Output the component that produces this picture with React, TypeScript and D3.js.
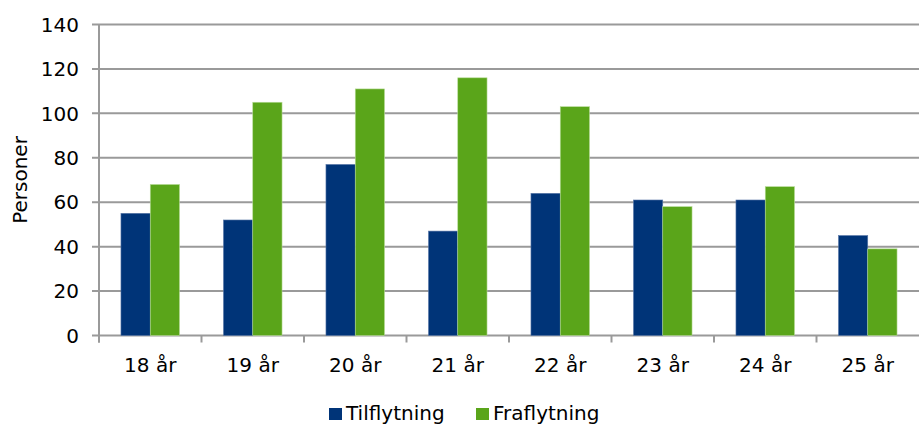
import * as d3 from "d3";

const categories = ["18 år", "19 år", "20 år", "21 år", "22 år", "23 år", "24 år", "25 år"];
const tilflytning = [55, 52, 77, 47, 64, 61, 61, 45];
const fraflytning = [68, 105, 111, 116, 103, 58, 67, 39];
const yTicks = [0, 20, 40, 60, 80, 100, 120, 140];
const seriesNames = ["Tilflytning", "Fraflytning"];
const colors = ["#003478", "#5aa51a"];

export default function App() {
  const width = 919;
  const height = 424;
  const left = 99;
  const right = 919;
  const top = 24.5;
  const bottom = 335.5;
  const font = "Verdana, 'DejaVu Sans', sans-serif";
  const fs = 20;

  const x = d3.scaleBand<string>().domain(categories).range([left, right]).paddingInner(0).paddingOuter(0);
  const y = d3.scaleLinear().domain([0, 140]).range([bottom, top]);
  // Excel-style gap width 150%
  const bw = x.bandwidth() / 3.5;
  const series = [tilflytning, fraflytning];

  return (
    <svg width={width} height={height} style={{position: "absolute", left: 0, top: 0, background: "#fff"}}>
      {yTicks.map((t) => (
        <g key={t}>
          <line x1={left - 7} x2={right} y1={y(t)} y2={y(t)} stroke="#9a9a9a" strokeWidth={2} />
          <text x={79} y={y(t)} dy="0.36em" textAnchor="end" fontSize={fs} fontFamily={font} fill="#000">
            {t}
          </text>
        </g>
      ))}
      <line x1={left} x2={left} y1={top} y2={bottom + 7} stroke="#9a9a9a" strokeWidth={2} />
      {categories.map((c) => (
        <line key={"tk" + c} x1={x(c)!} x2={x(c)!} y1={bottom} y2={bottom + 7} stroke="#9a9a9a" strokeWidth={2} />
      ))}
      {series.map((vals, s) =>
        vals.map((v, i) => {
          const c = categories[i];
          const bx = x(c)! + bw * 0.75 + s * bw;
          return (
            <rect
              key={s + "-" + c}
              x={bx}
              y={y(v)}
              width={bw}
              height={y(0) - y(v)}
              fill={colors[s]}
              stroke={s === 0 ? "#5a78a8" : "#b9dc9a"}
              strokeWidth={0.6}
            />
          );
        }),
      )}
      {categories.map((c) => (
        <text key={"lb" + c} x={x(c)! + x.bandwidth() / 2} y={372} textAnchor="middle" fontSize={fs} fontFamily={font} fill="#000">
          {c}
        </text>
      ))}
      <text transform={`translate(27,${(top + bottom) / 2}) rotate(-90)`} textAnchor="middle" fontSize={fs} fontFamily={font} fill="#000">
        Personer
      </text>
      <rect x={329} y={408} width={13} height={12} fill={colors[0]} />
      <text x={346} y={420} fontSize={fs} fontFamily={font} fill="#000">
        {seriesNames[0]}
      </text>
      <rect x={476} y={408} width={13} height={12} fill={colors[1]} />
      <text x={493} y={420} fontSize={fs} fontFamily={font} fill="#000">
        {seriesNames[1]}
      </text>
    </svg>
  );
}
